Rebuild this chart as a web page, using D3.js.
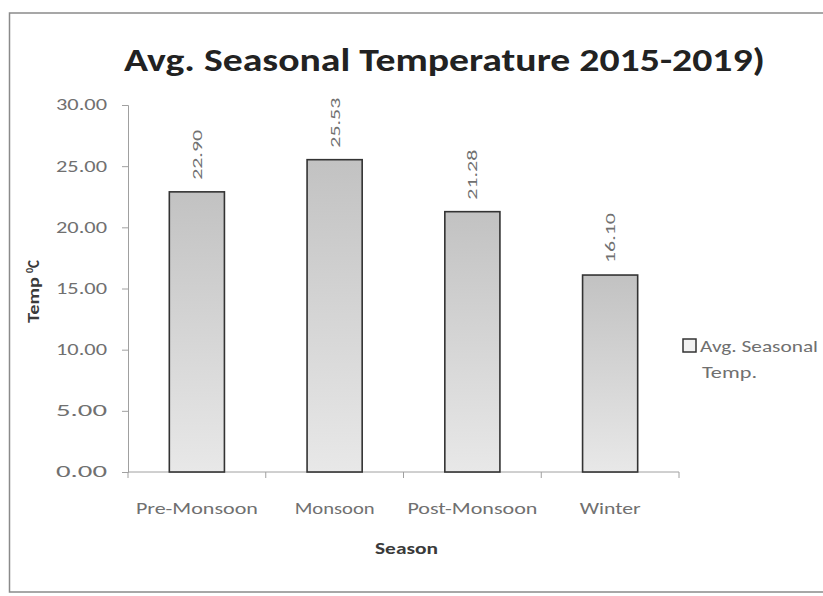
<!DOCTYPE html>
<html>
<head>
<meta charset="utf-8">
<script src="https://cdn.jsdelivr.net/npm/d3@7"></script>
<style>
  html, body { margin: 0; padding: 0; background: #fff; }
  svg { display: block; }
</style>
</head>
<body>
<svg id="chart" width="823" height="596"></svg>
<script>
// Seasonal averages (°C)
const seasons = ["Pre-Monsoon", "Monsoon", "Post-Monsoon", "Winter"];
const avgTemp = [22.90, 25.53, 21.28, 16.10];
const yTicks = [0, 5, 10, 15, 20, 25, 30];
const seriesName = ["Avg. Seasonal", "Temp."];

const svg = d3.select("#chart");
const font = "Carlito, Lato, 'Open Sans', sans-serif";
const labelGray = "#707070";

// text is drawn in a wide face: stretch each string to its own width
const wide = (sel, w) => sel.attr("textLength", w).attr("lengthAdjust", "spacingAndGlyphs");

// outer chart frame
svg.append("path")
  .attr("d", "M823,13 L9.5,13 L9.5,592 L823,592")
  .attr("fill", "none")
  .attr("stroke", "#8a8a8a")
  .attr("stroke-width", 1.5);

const plot = { left: 128, right: 679, top: 105, bottom: 472 };

const x = d3.scaleBand()
  .domain(seasons)
  .range([plot.left, plot.right])
  .paddingInner(0.6)
  .paddingOuter(0.3);

const y = d3.scaleLinear()
  .domain([0, 30])
  .range([plot.bottom, plot.top]);

const defs = svg.append("defs");
const grad = defs.append("linearGradient")
  .attr("id", "barFill")
  .attr("x1", 0).attr("y1", 0).attr("x2", 0).attr("y2", 1);
grad.append("stop").attr("offset", "0%").attr("stop-color", "#c2c2c2");
grad.append("stop").attr("offset", "100%").attr("stop-color", "#e8e8e8");

// title
svg.append("text")
  .attr("x", 124)
  .attr("y", 71)
  .attr("font-family", font)
  .attr("font-weight", "bold")
  .attr("font-size", 33)
  .attr("fill", "#222")
  .call(wide, 641)
  .text("Avg. Seasonal Temperature 2015-2019)");

// y axis
const yAxis = d3.axisLeft(y)
  .tickValues(yTicks)
  .tickFormat(d3.format(".2f"))
  .tickSize(6)
  .tickPadding(20);
const gy = svg.append("g")
  .attr("transform", `translate(${plot.left},0)`)
  .call(yAxis);
gy.select(".domain").attr("stroke", "#a0a0a0");
gy.selectAll(".tick line").attr("stroke", "#a0a0a0");
gy.selectAll(".tick text")
  .attr("font-family", font)
  .attr("font-size", 15.5)
  .attr("fill", labelGray)
  .attr("x", -21)
  .call(wide, 51);

// x axis with tick marks between categories
const gx = svg.append("g")
  .attr("transform", `translate(0,${plot.bottom})`);
gx.append("line")
  .attr("x1", plot.left).attr("x2", plot.right)
  .attr("stroke", "#a0a0a0");
const boundaries = d3.range(seasons.length + 1)
  .map(i => plot.left + i * (plot.right - plot.left) / seasons.length);
gx.selectAll("line.sep")
  .data(boundaries)
  .join("line")
  .attr("class", "sep")
  .attr("x1", d => d).attr("x2", d => d)
  .attr("y1", 0).attr("y2", 6)
  .attr("stroke", "#a0a0a0");
const labelWidths = [122, 80, 130, 61];
gx.selectAll("text")
  .data(seasons)
  .join("text")
  .attr("x", (d, i) => x(d) + x.bandwidth() / 2 - labelWidths[i] / 2)
  .attr("y", 42)
  .attr("font-family", font)
  .attr("font-size", 15.5)
  .attr("fill", labelGray)
  .attr("textLength", (d, i) => labelWidths[i])
  .attr("lengthAdjust", "spacingAndGlyphs")
  .text(d => d);

// bars
svg.selectAll("rect.bar")
  .data(avgTemp)
  .join("rect")
  .attr("class", "bar")
  .attr("x", (d, i) => x(seasons[i]))
  .attr("y", d => y(d))
  .attr("width", x.bandwidth())
  .attr("height", d => y(0) - y(d))
  .attr("fill", "url(#barFill)")
  .attr("stroke", "#333")
  .attr("stroke-width", 1.6);

// value labels, rotated above each bar
svg.selectAll("text.val")
  .data(avgTemp)
  .join("text")
  .attr("class", "val")
  .attr("transform", (d, i) => `translate(${x(seasons[i]) + x.bandwidth() / 2 + 5},${y(d) - 12}) rotate(-90)`)
  .attr("font-family", font)
  .attr("font-size", 15)
  .attr("fill", labelGray)
  .call(wide, 50)
  .text(d => d3.format(".2f")(d));

// axis titles
const yTitle = svg.append("text")
  .attr("transform", "translate(39,323) rotate(-90)")
  .attr("font-family", font)
  .attr("font-weight", "bold")
  .attr("font-size", 15)
  .attr("fill", "#3a3a3a");
yTitle.append("tspan").attr("textLength", 46).attr("lengthAdjust", "spacingAndGlyphs").text("Temp");
yTitle.append("tspan").attr("font-size", 10).attr("dx", 4).attr("dy", -6).text("0");
yTitle.append("tspan").attr("dy", 6).text("C");

svg.append("text")
  .attr("x", 375)
  .attr("y", 554)
  .attr("font-family", font)
  .attr("font-weight", "bold")
  .attr("font-size", 15)
  .attr("fill", "#3a3a3a")
  .call(wide, 63)
  .text("Season");

// legend
const legend = svg.append("g").attr("transform", "translate(683,339)");
legend.append("rect")
  .attr("width", 13).attr("height", 13)
  .attr("fill", "#f2f2f2")
  .attr("stroke", "#333")
  .attr("stroke-width", 1.5);
const legendWidths = [118, 55];
legend.selectAll("text")
  .data(seriesName)
  .join("text")
  .attr("x", (d, i) => i === 0 ? 17 : 19)
  .attr("y", (d, i) => 13 + i * 26)
  .attr("font-family", font)
  .attr("font-size", 15.5)
  .attr("fill", labelGray)
  .attr("textLength", (d, i) => legendWidths[i])
  .attr("lengthAdjust", "spacingAndGlyphs")
  .text(d => d);
</script>
</body>
</html>
